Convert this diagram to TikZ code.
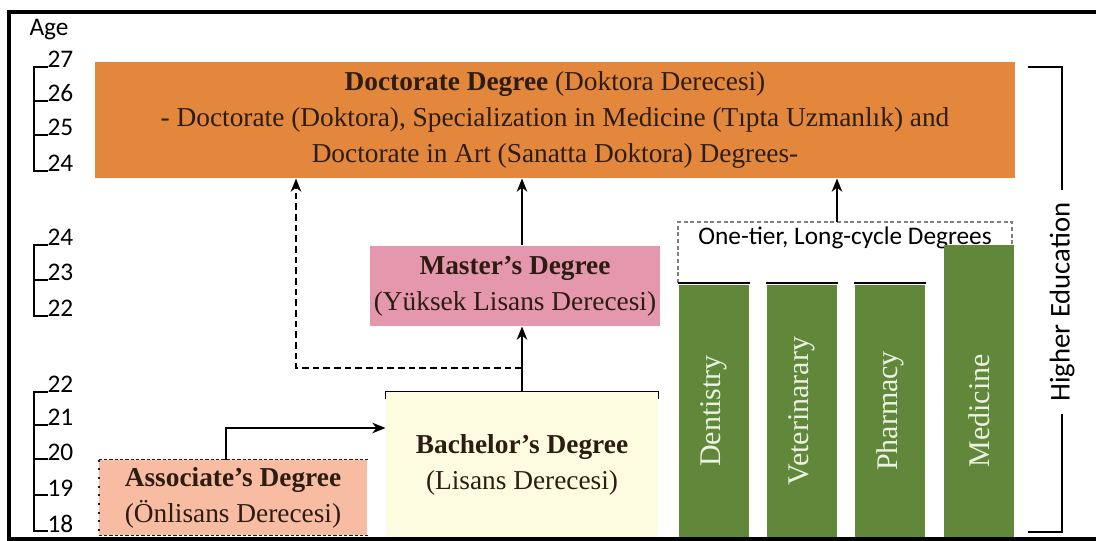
\documentclass[tikz,border=0pt]{standalone}
\usepackage{fontspec}
\setmainfont{Liberation Serif}
\newfontfamily\calfont{Carlito}
\usetikzlibrary{arrows.meta}

\definecolor{doccol}{RGB}{226,135,60}
\definecolor{mascol}{RGB}{229,151,173}
\definecolor{baccol}{RGB}{254,252,224}
\definecolor{asscol}{RGB}{248,188,163}
\definecolor{barcol}{RGB}{97,136,58}
\definecolor{bartext}{RGB}{236,242,226}
\definecolor{inktext}{RGB}{45,28,18}

\tikzset{every picture/.style={line width=0.75pt}}
\tikzset{
  degbox/.style={inner sep=0pt, align=center, text=inktext,
    font=\fontsize{20.5}{27}\selectfont},
  arr/.style={line width=1.3pt, -{Stealth[length=10pt,width=8pt]}},
  dasharr/.style={arr, dash pattern=on 5pt off 3pt},
  agelbl/.style={anchor=base west, inner sep=0pt, font=\calfont\fontsize{19}{19}\selectfont},
  bartxt/.style={rotate=90, text=bartext, font=\fontsize{22.5}{22.5}\selectfont}
}

\begin{document}
\begin{tikzpicture}[x=0.75pt,y=0.75pt,yscale=-1,xscale=1]
	\useasboundingbox (0,0) rectangle (1096,541);

	%frame
	\draw [line width=3.5pt] (9,12) rectangle (1110,539);

	%Age scales
	\node [agelbl, anchor=west] (age) at (29,30) {Age};
	\draw [line width=1.2pt] (48,67) -| (34,171) -- (48,171);
	\foreach \a/\y in {27/67,26/101,25/135,24/171} {
		\draw [line width=1.2pt] (34,\y) -- (48,\y);
		\node [agelbl] at (47,\y+1) {\a};
	}
	\draw [line width=1.2pt] (48,245) -| (34,316) -- (48,316);
	\foreach \a/\y in {24/245,23/280,22/316} {
		\draw [line width=1.2pt] (34,\y) -- (48,\y);
		\node [agelbl] at (47,\y+1) {\a};
	}
	\draw [line width=1.2pt] (48,392) -| (34,531) -- (48,531);
	\foreach \a/\y in {22/392,21/425,20/459,19/495,18/531} {
		\draw [line width=1.2pt] (34,\y) -- (48,\y);
		\node [agelbl] at (47,\y+1) {\a};
	}

	%Degree boxes
	\node [degbox, fill=doccol, minimum width=690pt, minimum height=87pt] (doct) at (555,120)
		{\textbf{Doctorate Degree} (Doktora Derecesi)\\
		 - Doctorate (Doktora), Specialization in Medicine (Tıpta Uzmanlık) and\\
		 Doctorate in Art (Sanatta Doktora) Degrees-};
	\node [degbox, fill=mascol, minimum width=217.5pt, minimum height=60pt] (mast) at (515,286)
		{\textbf{Master’s Degree}\\(Yüksek Lisans Derecesi)};
	\node [degbox, fill=baccol, minimum width=204pt, minimum height=108.75pt] (bach) at (522,464.5)
		{\textbf{Bachelor’s Degree}\\(Lisans Derecesi)};
	\node [degbox, fill=asscol, minimum width=201pt, minimum height=56.25pt] (asso) at (233,497.5)
		{\textbf{Associate’s Degree}\\(Önlisans Derecesi)};
	\draw [inktext, dash pattern=on 2.5pt off 1.5pt] (asso.north west) -- (asso.north east);
	\draw [inktext, dash pattern=on 2.5pt off 1.5pt] (asso.south west) -- (asso.south east);
	\draw [inktext, line width=1.5pt, dash pattern=on 1.5pt off 5pt] (asso.north west) -- (asso.south west);

	%Bachelor bracket
	\draw [line width=1.2pt] (bach.north west) ++(0,8) |- (bach.north east) -- ++(0,8);

	%One-tier long-cycle degrees
	\node [font=\calfont\fontsize{19}{19}\selectfont] (onet) at (845,238) {One-tier, Long-cycle Degrees};
	\coordinate (otop) at (837,222);
	\draw [gray, line width=1pt, dash pattern=on 3pt off 2pt] (678,283) |- (otop) -| (1012,245);

	\foreach \cx/\top/\name in {713.5/285/Dentistry, 802/285/Veterinarary, 890/285/Pharmacy, 979/245/Medicine} {
		\fill [barcol] (\cx-35,\top) rectangle (\cx+35,537);
		\node [bartxt] at (\cx,411) {\name};
	}
	\foreach \cx in {713.5, 802, 890} {
		\draw [line width=1.5pt] (\cx-36,283) -- (\cx+36,283);
	}

	%Higher education bracket
	\node [rotate=90, inner sep=9pt, font=\calfont\fontsize{21.5}{21.5}\selectfont] (high) at (1062,302) {Higher Education};
	\coordinate (hetop) at (1028,67);
	\coordinate (hebot) at (1028,532);
	\draw [line width=1.2pt] (hetop) -| (high.east);
	\draw [line width=1.2pt] (hebot) -| (high.west);

	%Arrows
	\coordinate (spine) at (bach.north);
	\coordinate (dsplit) at (522,368);
	\coordinate (dup) at (296,368);
	\coordinate (asc) at (226,428);
	\draw [line width=1.3pt] (spine) -- (dsplit);
	\draw [arr] (dsplit) -- (spine |- mast.south);
	\draw [arr] (mast.north -| spine) -- (spine |- doct.south);
	\draw [dasharr] (dsplit) -- (dup) -- (dup |- doct.south);
	\draw [arr] (asso.north -| asc) |- (bach.west |- asc);
	\draw [arr] (otop) -- (otop |- doct.south);

\end{tikzpicture}
\end{document}
